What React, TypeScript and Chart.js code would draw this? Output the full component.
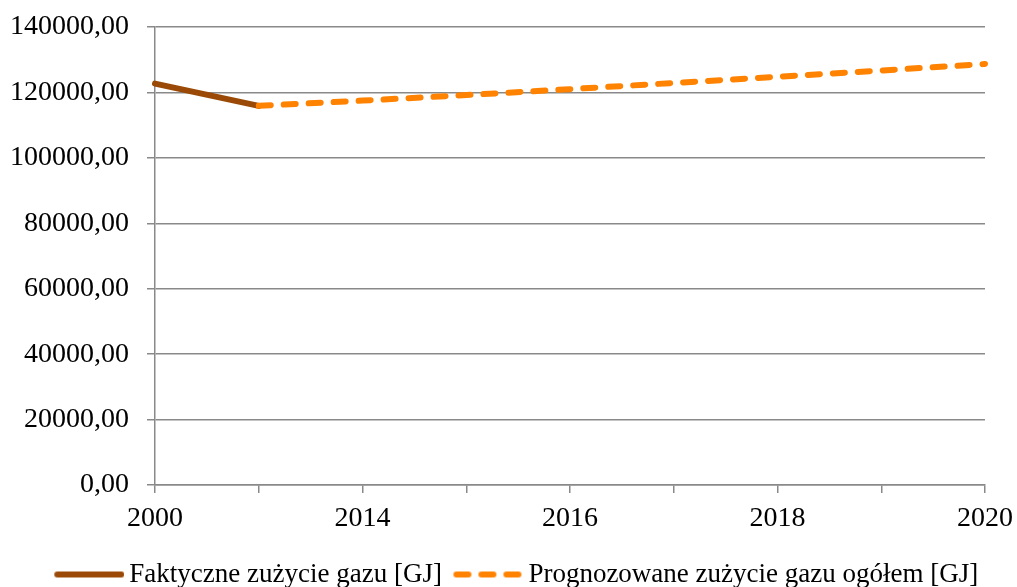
import React, { useEffect, useRef } from "react";
import { Chart, registerables } from "chart.js";

Chart.register(...registerables);

const categories = ["2000", "2013", "2014", "2015", "2016", "2017", "2018", "2019", "2020"];
const actualValues = [122700, 115900, null, null, null, null, null, null, null];
const forecastValues = [null, 115900, 117500, 119200, 121000, 122900, 124800, 126700, 128700];
const seriesNames = ["Faktyczne zużycie gazu [GJ]", "Prognozowane zużycie gazu ogółem [GJ]"];
const seriesColors = ["#9a4a06", "#ff8300"];

const GRID = "#898989";
const FONT = "'Liberation Serif', 'Times New Roman', serif";
const LINE_W = 6;
const DASH = [12, 13];

function makeMarker(color: string, dashed: boolean) {
  const W = 80;
  const H = 12;
  const c = document.createElement("canvas");
  c.width = W;
  c.height = H;
  const ctx = c.getContext("2d")!;
  ctx.strokeStyle = color;
  ctx.lineWidth = LINE_W;
  ctx.lineCap = "round";
  if (dashed) ctx.setLineDash(DASH);
  ctx.beginPath();
  ctx.moveTo(W - 70 + LINE_W / 2, H / 2);
  ctx.lineTo(W - LINE_W / 2, H / 2);
  ctx.stroke();
  return c;
}

const legendShift = {
  id: "legendShift",
  afterLayout(chart: any) {
    if (chart.legend) {
      chart.legend.left += 7;
      chart.legend.right += 7;
    }
  },
};

export default function App() {
  const ref = useRef<HTMLCanvasElement | null>(null);

  useEffect(() => {
    document.body.style.margin = "0";
    const canvas = ref.current;
    if (!canvas) return;
    const markers = [makeMarker(seriesColors[0], false), makeMarker(seriesColors[1], true)];
    const chart = new Chart(canvas, {
      type: "line",
      plugins: [legendShift],
      data: {
        labels: categories,
        datasets: [
          {
            label: seriesNames[0],
            data: actualValues,
            borderColor: seriesColors[0],
            backgroundColor: seriesColors[0],
            borderWidth: LINE_W,
            borderCapStyle: "round",
            borderJoinStyle: "round",
            pointRadius: 0,
            tension: 0,
            order: 1,
          },
          {
            label: seriesNames[1],
            data: forecastValues,
            borderColor: seriesColors[1],
            backgroundColor: seriesColors[1],
            borderWidth: LINE_W,
            borderDash: DASH,
            borderCapStyle: "round",
            pointRadius: 0,
            tension: 0,
            order: 0,
          },
        ],
      },
      options: {
        responsive: false,
        animation: false,
        layout: { padding: { top: 27, right: 0, left: 0, bottom: -11 } },
        font: { family: FONT },
        plugins: {
          tooltip: { enabled: false },
          legend: {
            position: "bottom",
            labels: {
              usePointStyle: true,
              pointStyleWidth: 63,
              padding: 10,
              color: "#000",
              font: { family: FONT, size: 27 },
              sort: (a: any, b: any) => a.datasetIndex - b.datasetIndex,
              generateLabels: (ch: any) => {
                const items = Chart.defaults.plugins.legend.labels.generateLabels(ch);
                items.forEach((it: any) => {
                  it.pointStyle = markers[it.datasetIndex];
                });
                return items;
              },
            },
          },
        },
        scales: {
          x: {
            type: "category",
            offset: false,
            afterFit: (scale: any) => {
              scale.height = 66;
              scale.paddingRight = 32;
            },
            grid: {
              display: true,
              drawOnChartArea: false,
              drawTicks: true,
              tickLength: 8,
              color: GRID,
              lineWidth: 1.5,
            },
            border: { display: true, color: GRID, width: 1.5 },
            ticks: {
              autoSkip: false,
              maxRotation: 0,
              color: "#000",
              padding: 9,
              font: { family: FONT, size: 28 },
              callback: function (_v: any, i: number) {
                return i % 2 === 0 ? categories[i] : "";
              },
            },
          },
          y: {
            min: 0,
            max: 140000,
            afterFit: (scale: any) => {
              scale.width = 155;
              scale.paddingTop = 0;
              scale.paddingBottom = 0;
            },
            grid: {
              color: GRID,
              lineWidth: 1.5,
              drawTicks: true,
              tickLength: 8,
            },
            border: { display: true, color: GRID, width: 1.5 },
            ticks: {
              stepSize: 20000,
              color: "#000",
              padding: 18,
              font: { family: FONT, size: 28 },
              callback: (v: any) => Number(v).toFixed(2).replace(".", ","),
            },
          },
        },
      },
    });
    return () => chart.destroy();
  }, []);

  return (
    <div style={{ position: "absolute", left: 0, top: 0, width: 1017, height: 587 }}>
      <canvas ref={ref} width={1017} height={587} />
    </div>
  );
}
